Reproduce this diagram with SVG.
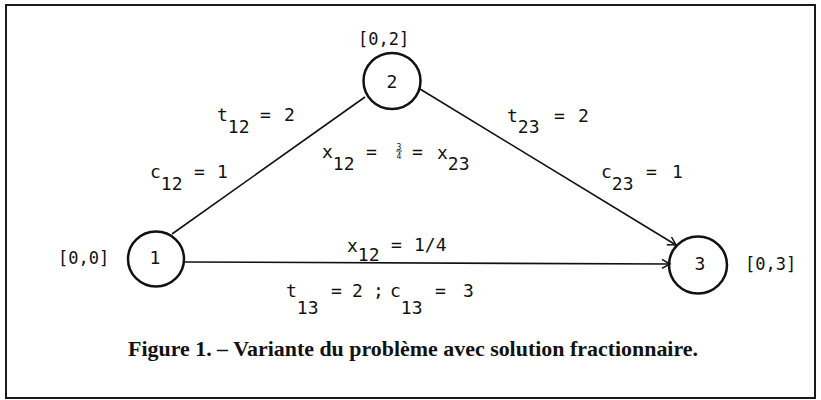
<svg xmlns="http://www.w3.org/2000/svg" width="821" height="400" viewBox="0 0 821 400">
<style>
.frame{fill:none;stroke:#1a1a1a;stroke-width:2}
.node{fill:none;stroke:#111;stroke-width:2.5}
.edge{fill:none;stroke:#111;stroke-width:1.6}
.lbl{font-family:"DejaVu Sans Mono","Liberation Mono",monospace;font-size:18px;fill:#111}
.num{font-family:"DejaVu Sans Mono","Liberation Mono",monospace;font-size:18px;fill:#111;text-anchor:middle}
.br{font-family:"DejaVu Sans Mono","Liberation Mono",monospace;font-size:17px;fill:#111}
.frac{font-family:"DejaVu Sans Mono","Liberation Mono",monospace;font-size:8px;fill:#111;text-anchor:middle}
.cap{font-family:"Liberation Serif","Times New Roman",serif;font-size:22px;font-weight:bold;fill:#111}
</style>
<defs>
<marker id="arr" markerWidth="12" markerHeight="12" refX="10" refY="6" orient="auto" markerUnits="userSpaceOnUse">
<path d="M2,1.5 L10,6 L2,10.5" fill="none" stroke="#111" stroke-width="1.5"/>
</marker>
</defs>
<rect class="frame" x="6" y="5" width="809" height="393"/>
<g id="connectors">
<line id="e12" class="edge" x1="172" y1="234" x2="365" y2="97"/>
<line id="e23" class="edge" x1="420" y1="89" x2="676" y2="245" marker-end="url(#arr)"/>
<line id="e13" class="edge" x1="184" y1="262" x2="670" y2="264" marker-end="url(#arr)"/>
</g>
<g id="node1">
<ellipse class="node" cx="156" cy="259" rx="28" ry="27.5"/>
<text class="num" x="155" y="264">1</text>
<text class="br" x="58" y="264">[0,0]</text>
</g>
<g id="node2">
<ellipse class="node" cx="392" cy="81" rx="28.5" ry="28"/>
<text class="num" x="392" y="88">2</text>
<text class="br" x="358" y="45">[0,2]</text>
</g>
<g id="node3">
<ellipse class="node" cx="698" cy="265" rx="29" ry="28.5"/>
<text class="num" x="700" y="270">3</text>
<text class="br" x="745" y="270">[0,3]</text>
</g>
<g id="labels">
<text class="lbl" x="217" y="121">t<tspan dy="12">12</tspan><tspan x="260" dy="-12">=</tspan><tspan x="284">2</tspan></text>
<text class="lbl" x="150" y="178">c<tspan dy="12">12</tspan><tspan x="194" dy="-12">=</tspan><tspan x="217">1</tspan></text>
<text class="lbl" x="322" y="158">x<tspan dy="12">12</tspan><tspan x="366" dy="-12">=</tspan><tspan x="412">=</tspan><tspan x="437" dy="1">x</tspan><tspan dy="11">23</tspan></text>
<text class="frac" x="399" y="149.5">3</text>
<line x1="396" y1="151" x2="402" y2="151" stroke="#111" stroke-width="0.8"/>
<text class="frac" x="399" y="158.5">4</text>
<text class="lbl" x="507" y="122">t<tspan dy="11">23</tspan><tspan x="554" dy="-11">=</tspan><tspan x="578">2</tspan></text>
<text class="lbl" x="601" y="178">c<tspan dy="12">23</tspan><tspan x="646" dy="-12">=</tspan><tspan x="672">1</tspan></text>
<text class="lbl" x="347" y="252">x<tspan dy="9">12</tspan><tspan x="391" dy="-10">=</tspan><tspan x="414">1/4</tspan></text>
<text class="lbl" x="286" y="297">t<tspan dy="17">13</tspan><tspan x="331" dy="-17">=</tspan><tspan x="352">2</tspan><tspan x="373">;</tspan><tspan x="390">c</tspan><tspan dy="17">13</tspan><tspan x="435" dy="-17">=</tspan><tspan x="463">3</tspan></text>
</g>
<text class="cap" x="128" y="356" textLength="570" lengthAdjust="spacingAndGlyphs">Figure 1. – Variante du problème avec solution fractionnaire.</text>
</svg>
